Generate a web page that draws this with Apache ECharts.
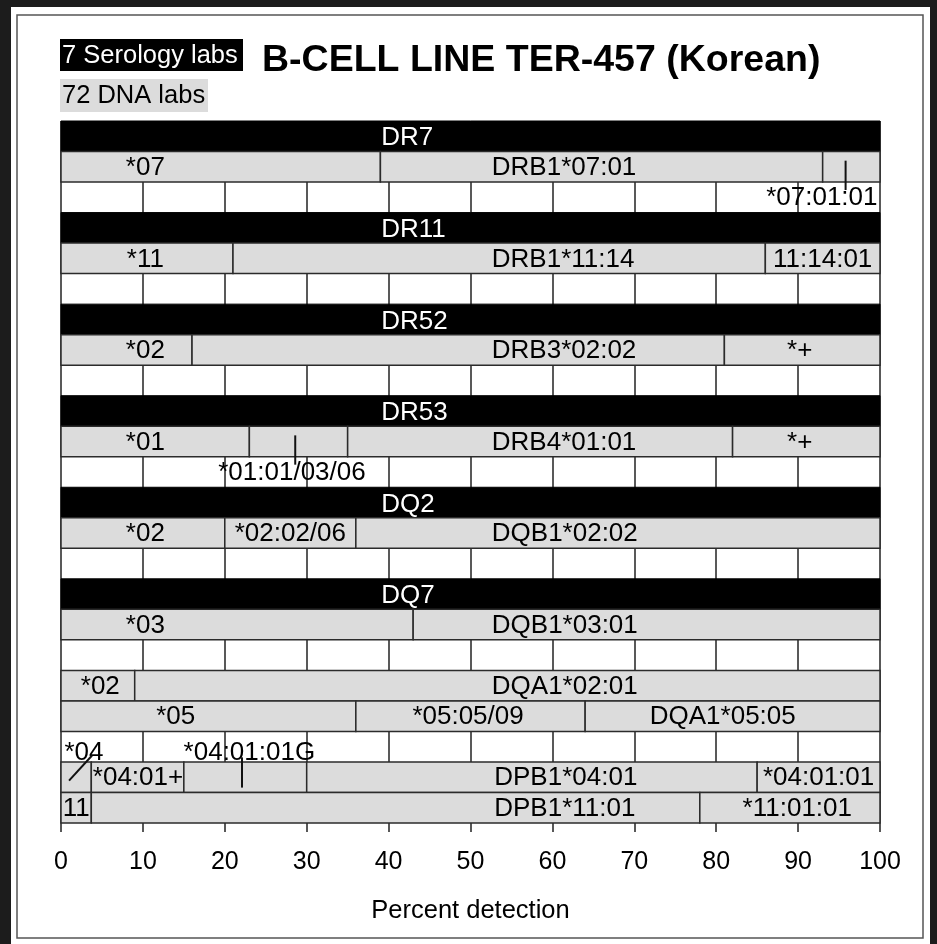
<!DOCTYPE html>
<html><head><meta charset="utf-8">
<script src="https://cdn.jsdelivr.net/npm/echarts@6/dist/echarts.min.js"></script>
<style>html,body{margin:0;padding:0;background:#fff}#c{width:937px;height:944px}</style>
</head><body><div id="c"></div>
<script>
// ---- data ----
const xTicks = [0, 10, 20, 30, 40, 50, 60, 70, 80, 90, 100];
const rowCount = 23;
const serologyNames = ['DR7', 'DR11', 'DR52', 'DR53', 'DQ2', 'DQ7'];
const serologyRows = [0, 3, 6, 9, 12, 15];
const serologyLabelX = 39.1;
const alleleRows = [1, 4, 7, 10, 13, 16, 18, 19, 21, 22];
const alleleBreaks = [
  [0, 39, 93, 100],
  [0, 21, 86, 100],
  [0, 16, 81, 100],
  [0, 23, 35, 82, 100],
  [0, 20, 36, 100],
  [0, 43, 100],
  [0, 9, 100],
  [0, 36, 64, 100],
  [0, 3.7, 15, 30, 85, 100],
  [0, 3.7, 78, 100]
];
const alleleLabels = [
  ['*07', 'DRB1*07:01', '*07:01:01'],
  ['*11', 'DRB1*11:14', '11:14:01'],
  ['*02', 'DRB3*02:02', '*+'],
  ['*01', '*01:01/03/06', 'DRB4*01:01', '*+'],
  ['*02', '*02:02/06', 'DQB1*02:02'],
  ['*03', 'DQB1*03:01'],
  ['*02', 'DQA1*02:01'],
  ['*05', '*05:05/09', 'DQA1*05:05'],
  ['*04', '*04:01+', '*04:01:01G', 'DPB1*04:01', '*04:01:01'],
  ['11', 'DPB1*11:01', '*11:01:01']
];
// label anchor on the percent scale
const labelX = [
  [10.3, 52.6, 92.9],
  [10.3, 52.6, 93.0],
  [10.3, 52.6, 90.2],
  [10.3, 28.2, 52.6, 90.2],
  [10.3, 28.0, 52.6],
  [10.3, 52.6],
  [4.8, 52.6],
  [14.0, 49.7, 80.8],
  [2.8, 9.4, 23.0, 52.9, 92.5],
  [1.85, 52.9, 89.9]
];
// 0 = inside bar, 1 = row below, -1 = row above
const labelRowShift = [
  [0, 0, 1],
  [0, 0, 0],
  [0, 0, 0],
  [0, 1, 0, 0],
  [0, 0, 0],
  [0, 0],
  [0, 0],
  [0, 0, 0],
  [-1, 0, -1, 0, 0],
  [0, 0, 0]
];
const labelAlign = [
  ['c', 'l', 'c'],
  ['c', 'l', 'c'],
  ['c', 'l', 'c'],
  ['c', 'c', 'l', 'c'],
  ['c', 'c', 'l'],
  ['c', 'l'],
  ['c', 'l'],
  ['c', 'c', 'c'],
  ['c', 'c', 'c', 'l', 'c'],
  ['c', 'l', 'c']
];
// leader lines: [x at bar end, x at label end]
const leaderX = [
  [null, null, [95.8, 95.8]],
  [null, null, null],
  [null, null, null],
  [null, [28.6, 28.6], null, null],
  [null, null, null],
  [null, null],
  [null, null],
  [null, null, null],
  [[3.79, 0.98], null, [22.1, 22.1], null, null],
  [null, null, null]
];

// ---- build series data ----
const FONT = '"Liberation Sans", Arial, Helvetica, sans-serif';
const FS = 26;
const rowIds = Array.from({length: rowCount}, (_, i) => 'r' + i);
const seroData = serologyRows.map((r, i) => [r, i]);
const segData = [];
const lblData = [];
alleleRows.forEach((r, k) => {
  const b = alleleBreaks[k];
  for (let s = 0; s < b.length - 1; s++) segData.push([b[s], b[s + 1], r]);
  alleleLabels[k].forEach((t, j) => lblData.push([labelX[k][j], r, k, j]));
});

const chart = echarts.init(document.getElementById('c'), null, {renderer: 'canvas'});

function rowBox(api, r) {
  const c = api.coord([0, r]);
  const h = api.size([0, 1])[1];
  return {top: c[1] - h / 2, bottom: c[1] + h / 2, h: h, mid: c[1]};
}

chart.setOption({
  animation: false,
  backgroundColor: '#fff',
  grid: {left: 61, right: 57, top: 121, bottom: 121, containLabel: false},
  xAxis: {
    type: 'value', min: xTicks[0], max: xTicks[xTicks.length - 1], interval: xTicks[1] - xTicks[0],
    axisLine: {show: false},
    axisTick: {show: true, length: 9, lineStyle: {color: '#222', width: 1.5}},
    axisLabel: {margin: 27, color: '#000', fontSize: 25, fontFamily: FONT},
    splitLine: {show: true, lineStyle: {color: '#222', width: 1.5}},
    name: 'Percent detection', nameLocation: 'middle', nameGap: 75,
    nameTextStyle: {color: '#000', fontSize: 25.5, fontFamily: FONT}
  },
  yAxis: {
    type: 'category', data: rowIds, inverse: true,
    axisLine: {show: false}, axisTick: {show: false}, axisLabel: {show: false}, splitLine: {show: false}
  },
  graphic: [
    {type: 'rect', shape: {x: 0, y: 0, width: 937, height: 7}, style: {fill: '#1c1c1c'}, z: 100},
    {type: 'rect', shape: {x: 0, y: 0, width: 11, height: 944}, style: {fill: '#1c1c1c'}, z: 100},
    {type: 'rect', shape: {x: 930, y: 0, width: 7, height: 944}, style: {fill: '#1c1c1c'}, z: 100},
    {type: 'rect', shape: {x: 17, y: 15, width: 906, height: 923}, style: {fill: null, stroke: '#555', lineWidth: 1.5}, z: 100},
    {type: 'rect', shape: {x: 60, y: 39, width: 183, height: 32}, style: {fill: '#000'}, z: 100},
    {type: 'text', x: 62, y: 56, style: {text: '7 Serology labs', fill: '#fff', font: '25.5px ' + FONT, textVerticalAlign: 'middle'}, z: 101},
    {type: 'rect', shape: {x: 60, y: 79, width: 148, height: 33}, style: {fill: '#dcdcdc'}, z: 100},
    {type: 'text', x: 62, y: 96, style: {text: '72 DNA labs', fill: '#000', font: '25.5px ' + FONT, textVerticalAlign: 'middle'}, z: 101},
    {type: 'text', x: 262, y: 61, style: {text: 'B-CELL LINE TER-457 (Korean)', fill: '#000', font: 'bold 37.5px ' + FONT, textVerticalAlign: 'middle'}, z: 101}
  ],
  series: [
    {
      type: 'custom', name: 'serology', data: seroData, z: 2,
      renderItem: function (params, api) {
        const r = api.value(0);
        const b = rowBox(api, r);
        const x0 = api.coord([xTicks[0], r])[0];
        const x1 = api.coord([xTicks[xTicks.length - 1], r])[0];
        const lx = api.coord([serologyLabelX, r])[0];
        return {type: 'group', children: [
          {type: 'rect', shape: {x: x0, y: b.top, width: x1 - x0, height: b.h}, style: {fill: '#000', stroke: '#000', lineWidth: 1}},
          {type: 'text', style: {text: serologyNames[api.value(1)], x: lx, y: b.mid + 2, fill: '#fff', font: FS + 'px ' + FONT, textAlign: 'left', textVerticalAlign: 'middle'}}
        ]};
      }
    },
    {
      type: 'custom', name: 'alleles', data: segData, z: 3,
      renderItem: function (params, api) {
        const r = api.value(2);
        const b = rowBox(api, r);
        const x0 = api.coord([api.value(0), r])[0];
        const x1 = api.coord([api.value(1), r])[0];
        return {type: 'rect', shape: {x: x0, y: b.top, width: x1 - x0, height: b.h},
          style: {fill: '#dcdcdc', stroke: '#2b2b2b', lineWidth: 1.5}};
      }
    },
    {
      type: 'custom', name: 'labels', data: lblData, z: 4,
      renderItem: function (params, api) {
        const r = api.value(1), k = api.value(2), j = api.value(3);
        const b = rowBox(api, r);
        const shift = labelRowShift[k][j];
        const lx = api.coord([api.value(0), r])[0];
        let ly = b.mid + 1;
        if (shift === 1) ly = b.mid + b.h + 1;
        if (shift === -1) ly = b.top - 9;
        const children = [{type: 'text', style: {text: alleleLabels[k][j], x: lx, y: ly, fill: '#000',
          font: FS + 'px ' + FONT, textAlign: labelAlign[k][j] === 'l' ? 'left' : 'center', textVerticalAlign: 'middle'}}];
        const L = leaderX[k][j];
        if (L) {
          const xa = api.coord([L[0], r])[0], xb = api.coord([L[1], r])[0];
          let ya, yb;
          if (shift === 1) { ya = b.top + 0.3 * b.h; yb = b.bottom + 0.26 * b.h; }
          else if (L[0] === L[1]) { ya = b.top - 0.15 * b.h; yb = b.bottom - 0.16 * b.h; }
          else { ya = b.top - 0.21 * b.h; yb = b.bottom - 0.39 * b.h; }
          children.push({type: 'line', shape: {x1: xa, y1: ya, x2: xb, y2: yb}, style: {stroke: '#111', lineWidth: 2}});
        }
        return {type: 'group', children: children};
      }
    }
  ]
});
</script></body></html>
